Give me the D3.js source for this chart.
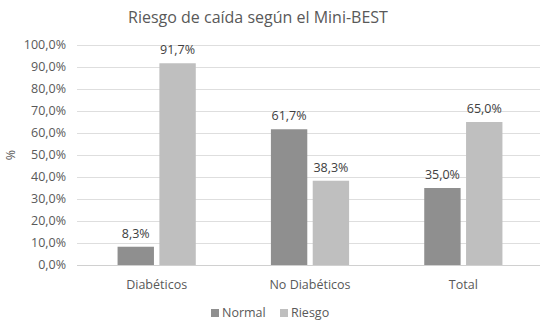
<!DOCTYPE html>
<html>
<head>
<meta charset="utf-8">
<script src="https://cdn.jsdelivr.net/npm/d3@7"></script>
<style>
  body { margin: 0; background: #fff; }
  svg text { font-family: "Open Sans", Lato, sans-serif; fill: #595959; }
</style>
</head>
<body>
<svg id="chart" width="544" height="325"></svg>
<script>
const categories = ["Diabéticos", "No Diabéticos", "Total"];
const seriesNames = ["Normal", "Riesgo"];
const normal = [8.3, 61.7, 35.0];
const riesgo = [91.7, 38.3, 65.0];
const yTicks = [0, 10, 20, 30, 40, 50, 60, 70, 80, 90, 100];
const colors = ["#8f8f8f", "#bfbfbf"];

const svg = d3.select("#chart");
const margin = {left: 80, right: 4, top: 45, bottom: 60};
const width = 544, height = 325;

const x = d3.scaleBand()
  .domain(categories)
  .range([margin.left, width - margin.right])
  .paddingInner(0.49)
  .paddingOuter(0.245);

const x1 = d3.scaleBand()
  .domain(seriesNames)
  .range([0, x.bandwidth()])
  .paddingInner(0.13);

const y = d3.scaleLinear()
  .domain([0, 100])
  .range([height - margin.bottom, margin.top]);

const fmt = v => d3.format(".1f")(v).replace(".", ",") + "%";

// gridlines
svg.append("g")
  .selectAll("line")
  .data(yTicks)
  .join("line")
  .attr("x1", margin.left - 3)
  .attr("x2", width - margin.right)
  .attr("y1", d => Math.round(y(d)) + 0.5)
  .attr("y2", d => Math.round(y(d)) + 0.5)
  .attr("stroke", d => d === 0 ? "#d0d0d0" : "#dedede")
  .attr("stroke-width", 1);

// y tick labels
svg.append("g")
  .selectAll("text")
  .data(yTicks)
  .join("text")
  .attr("x", 66)
  .attr("y", d => y(d))
  .attr("dy", "0.35em")
  .attr("text-anchor", "end")
  .style("font-size", "12.5px")
  .text(d => fmt(d));

// y axis label
svg.append("text")
  .attr("transform", "translate(11," + y(50) + ") rotate(-90)")
  .attr("text-anchor", "middle")
  .attr("dy", "0.35em")
  .style("font-size", "12.5px")
  .text("%");

const rows = categories.map((c, i) => ({cat: c, vals: [normal[i], riesgo[i]]}));

const groups = svg.append("g")
  .selectAll("g")
  .data(rows)
  .join("g")
  .attr("transform", d => "translate(" + x(d.cat) + ",0)");

groups.selectAll("rect")
  .data(d => d.vals.map((v, j) => ({name: seriesNames[j], v: v, j: j})))
  .join("rect")
  .attr("x", d => x1(d.name))
  .attr("width", x1.bandwidth())
  .attr("y", d => y(d.v))
  .attr("height", d => y(0) - y(d.v))
  .attr("fill", d => colors[d.j]);

groups.selectAll("text")
  .data(d => d.vals.map((v, j) => ({name: seriesNames[j], v: v})))
  .join("text")
  .attr("x", d => x1(d.name) + x1.bandwidth() / 2)
  .attr("y", d => y(d.v) - 9)
  .attr("text-anchor", "middle")
  .style("font-size", "12.5px")
  .style("fill", "#404040")
  .text(d => fmt(d.v));

// category labels
svg.append("g")
  .selectAll("text")
  .data(categories)
  .join("text")
  .attr("x", d => x(d) + x.bandwidth() / 2)
  .attr("y", 285)
  .attr("dy", "0.35em")
  .attr("text-anchor", "middle")
  .style("font-size", "12.5px")
  .text(d => d);

// title
svg.append("text")
  .attr("x", 258)
  .attr("y", 17)
  .attr("dy", "0.35em")
  .attr("text-anchor", "middle")
  .style("font-size", "16px")
  .text("Riesgo de caída según el Mini-BEST");

// legend
const legendX = [211, 280];
const legend = svg.append("g")
  .selectAll("g")
  .data(seriesNames)
  .join("g")
  .attr("transform", (d, i) => "translate(" + legendX[i] + ",313)");

legend.append("rect")
  .attr("x", 0)
  .attr("y", -4)
  .attr("width", 8)
  .attr("height", 8)
  .attr("fill", (d, i) => colors[i]);

legend.append("text")
  .attr("x", 11)
  .attr("y", 0)
  .attr("dy", "0.35em")
  .style("font-size", "12.5px")
  .text(d => d);
</script>
</body>
</html>
